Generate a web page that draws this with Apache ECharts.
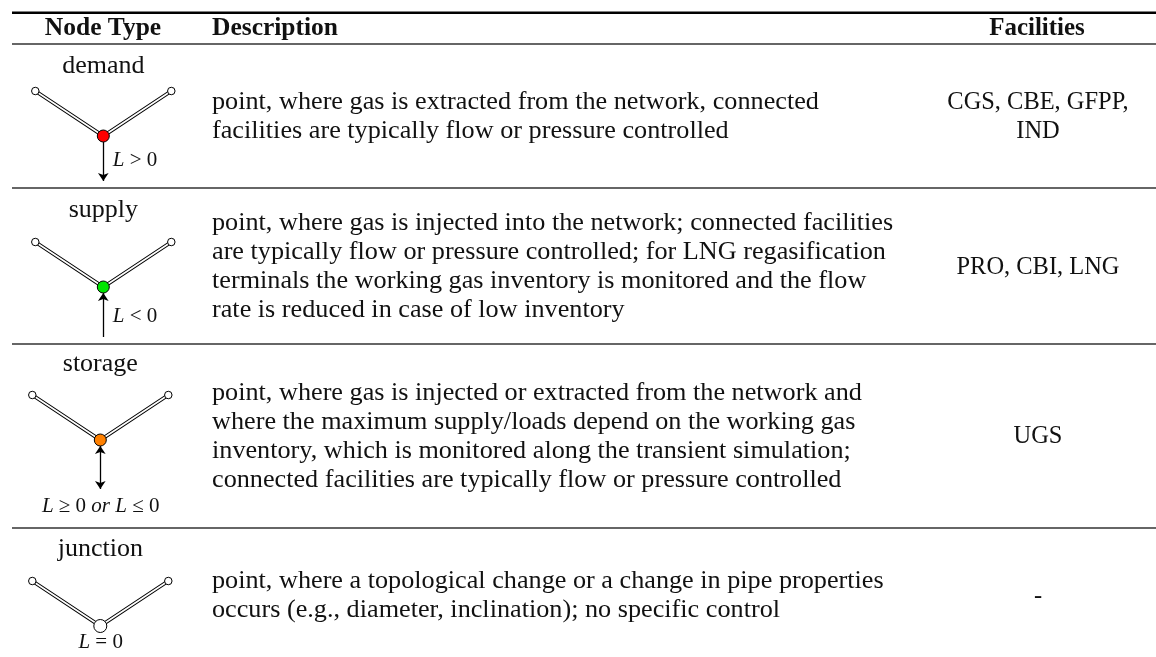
<!DOCTYPE html>
<html>
<head>
<meta charset="utf-8">
<title>Node types</title>
<style>
html, body { margin: 0; padding: 0; background: #fff; }
#box1 { width: 1156px; height: 657px; }
</style>
<script src="https://cdn.jsdelivr.net/npm/echarts@6/dist/echarts.min.js"></script>
</head>
<body>
<div id="box1"></div>
<script>
// table content
var headers = ['Node Type', 'Description', 'Facilities'];
var nodeTypes = ['demand', 'supply', 'storage', 'junction'];
var nodeColors = ['#ff0000', '#00e600', '#ff8000', '#ffffff'];
var loadLabels = ['L > 0', 'L < 0', 'L ≥ 0 or L ≤ 0', 'L = 0'];
var facilities = [['CGS, CBE, GFPP,', 'IND'], ['PRO, CBI, LNG'], ['UGS'], ['-']];
var descriptions = [
    ['point, where gas is extracted from the network, connected',
     'facilities are typically flow or pressure controlled'],
    ['point, where gas is injected into the network; connected facilities',
     'are typically flow or pressure controlled; for LNG regasification',
     'terminals the working gas inventory is monitored and the flow',
     'rate is reduced in case of low inventory'],
    ['point, where gas is injected or extracted from the network and',
     'where the maximum supply/loads depend on the working gas',
     'inventory, which is monitored along the transient simulation;',
     'connected facilities are typically flow or pressure controlled'],
    ['point, where a topological change or a change in pipe properties',
     'occurs (e.g., diameter, inclination); no specific control']
];

// table geometry in page pixels
var ruleYs = [12.7, 44, 188, 344, 528];
var ruleWeights = [2.6, 1.3, 1.3, 1.3, 1.3];
var ruleColors = ['#000', '#333', '#333', '#333', '#333'];
var nameYs = [66, 210, 364.5, 549];
var nodeXs = [103.3, 103.3, 100.3, 100.3];
var nodeYs = [136, 287, 440, 626];
var loadXs = [135, 135, 100.7, 100.7];
var loadYs = [160, 316, 506, 642];
var arrowFrom = [142, 337, 446, null];
var arrowTo = [181, 293, 489, null];
var textMids = [117, 267, 436.5, 596];
var lineGap = 29;
var armDx = 68, armDy = 45;

var chart = echarts.init(document.getElementById('box1')); //获取装载数据表的容器

var serif = '"Liberation Serif", serif';
var bodyFont = '26px ' + serif;
var boldFont = 'bold 26px ' + serif;
var mathFont = '21px ' + serif;

// one text item: [x, y, text, font, align, scaleX]
var textItems = [];
textItems.push([103, 28, headers[0], boldFont, 'center', 0.98]);
textItems.push([212, 28, headers[1], boldFont, 'left', 0.98]);
textItems.push([1037, 28, headers[2], boldFont, 'center', 0.96]);
nodeTypes.forEach(function (name, i) {
    textItems.push([nodeXs[i], nameYs[i], name, bodyFont, 'center', 1.0]);
    // L and "or" are italic, the rest of the formula upright
    var load = loadLabels[i].replace(/L|or/g, '{i|$&}');
    textItems.push([loadXs[i], loadYs[i], load, mathFont, 'center', 1.0]);
    descriptions[i].forEach(function (line, k) {
        var y = textMids[i] + (k - (descriptions[i].length - 1) / 2) * lineGap;
        textItems.push([212, y, line, bodyFont, 'left', 1.008]);
    });
    facilities[i].forEach(function (line, k) {
        var y = textMids[i] + (k - (facilities[i].length - 1) / 2) * lineGap;
        textItems.push([1038, y, line, bodyFont, 'center', 0.94]);
    });
});

var series = [];

// horizontal rules
ruleYs.forEach(function (y, i) {
    series.push({
        type: 'line', silent: true, symbol: 'none', z: 1,
        data: [[12, y], [1156, y]],
        lineStyle: { color: ruleColors[i], width: ruleWeights[i] }
    });
});

nodeTypes.forEach(function (name, i) {
    var cx = nodeXs[i], cy = nodeYs[i];
    var pipe = [[cx - armDx, cy - armDy], [cx, cy], [cx + armDx, cy - armDy]];
    // double stroked pipe: black under white
    series.push({
        type: 'line', silent: true, symbol: 'none', z: 2, data: pipe,
        lineStyle: { color: '#000', width: 3.6, join: 'miter' }
    });
    series.push({
        type: 'line', silent: true, symbol: 'none', z: 3, data: pipe,
        lineStyle: { color: '#fff', width: 1.6 }
    });
    // load arrow
    if (arrowFrom[i] != null) {
        series.push({
            type: 'lines', coordinateSystem: 'cartesian2d', silent: true, z: 4,
            data: [{ coords: [[cx, arrowFrom[i]], [cx, arrowTo[i]]] }],
            symbol: i == 2 ? ['arrow', 'arrow'] : ['none', 'arrow'],
            symbolSize: 8,
            lineStyle: { color: '#000', width: 1.3, opacity: 1 }
        });
    }
    // open ends
    series.push({
        type: 'scatter', silent: true, z: 5, symbolSize: 7.5,
        data: [pipe[0], pipe[2]],
        itemStyle: { color: '#fff', borderColor: '#000', borderWidth: 1, opacity: 1 }
    });
    // the node itself
    series.push({
        type: 'scatter', silent: true, z: 6, symbolSize: i == 3 ? 13 : 12,
        data: [[cx, cy]],
        itemStyle: { color: nodeColors[i], borderColor: '#000', borderWidth: 1, opacity: 1 }
    });
});

// all table text
series.push({
    type: 'custom', silent: true, z: 10,
    data: textItems,
    encode: { x: 0, y: 1 },
    renderItem: function (params, api) {
        var item = textItems[params.dataIndex];
        var p = api.coord([item[0], item[1]]);
        return {
            type: 'text',
            x: p[0], y: p[1],
            scaleX: item[5],
            style: {
                text: item[2], font: item[3], fill: '#111',
                textAlign: item[4], textVerticalAlign: 'middle',
                rich: { i: { font: 'italic ' + mathFont, fill: '#111' } }
            }
        };
    }
});

var option = {
    animation: false,
    backgroundColor: '#fff',
    grid: { left: 0, right: 0, top: 0, bottom: 0 },
    xAxis: { type: 'value', min: 0, max: 1156, show: false },
    yAxis: { type: 'value', min: 0, max: 657, inverse: true, show: false },
    series: series
};
chart.setOption(option);
</script>
</body>
</html>
